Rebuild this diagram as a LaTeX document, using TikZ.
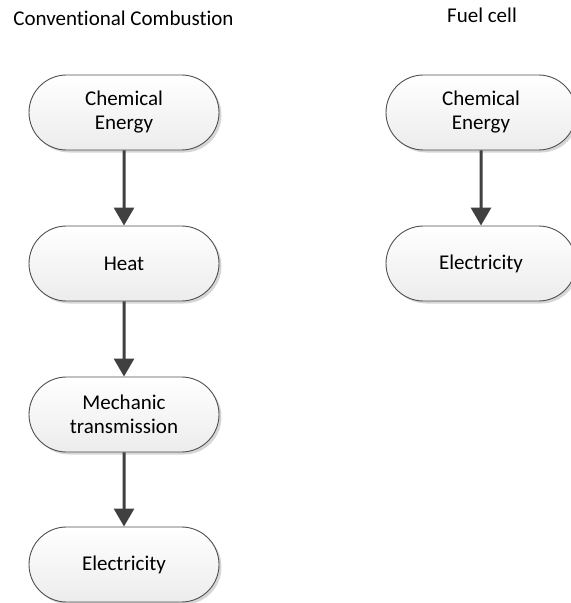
\documentclass[tikz,border=0pt]{standalone}
\usepackage{fontspec}
\setmainfont[Ligatures={NoCommon}]{Carlito}
\usetikzlibrary{shapes.misc,arrows.meta,shadows}

\definecolor{edgegray}{HTML}{505050}
\definecolor{arrowgray}{HTML}{404040}
\definecolor{fillbottom}{HTML}{ECECEC}
\definecolor{shadowgray}{HTML}{D6D6D6}

\tikzset{
  stage/.style={
    rounded rectangle, draw=edgegray, line width=0.9bp,
    minimum width=190bp, minimum height=75bp, inner sep=0pt,
    top color=white, bottom color=fillbottom,
    align=center, font=\fontsize{21bp}{24bp}\selectfont,
    drop shadow={shadow xshift=2.5bp, shadow yshift=-2.5bp,
                 fill=shadowgray, opacity=1}
  },
  flow/.style={draw=arrowgray, line width=3bp,
    -{Triangle[length=18bp,width=20bp]}},
  heading/.style={anchor=base, inner sep=0pt,
    font=\fontsize{21bp}{24bp}\selectfont}
}

\begin{document}
\begin{tikzpicture}[x=1bp,y=-1bp]
  \path[use as bounding box, clip] (0,0) rectangle (571,603);

  % column headings
  \node[heading] (tl) at (123.5,26) {Conventional Combustion};
  \node[heading] (tr) at (482,23) {Fuel cell};

  % conventional combustion chain
  \node[stage] (c1) at (124,112.5) {Chemical\\Energy};
  \node[stage] (c2) at (124,263.5) {Heat};
  \node[stage] (c3) at (124,414.5) {Mechanic\\transmission};
  \node[stage] (c4) at (124,564.5) {Electricity};

  % fuel cell chain
  \node[stage] (f1) at (481,112.5) {Chemical\\Energy};
  \node[stage] (f2) at (481,263.5) {Electricity};

  \draw[flow] (c1) -- (c2);
  \draw[flow] (c2) -- (c3);
  \draw[flow] (c3) -- (c4);
  \draw[flow] (f1) -- (f2);
\end{tikzpicture}
\end{document}
